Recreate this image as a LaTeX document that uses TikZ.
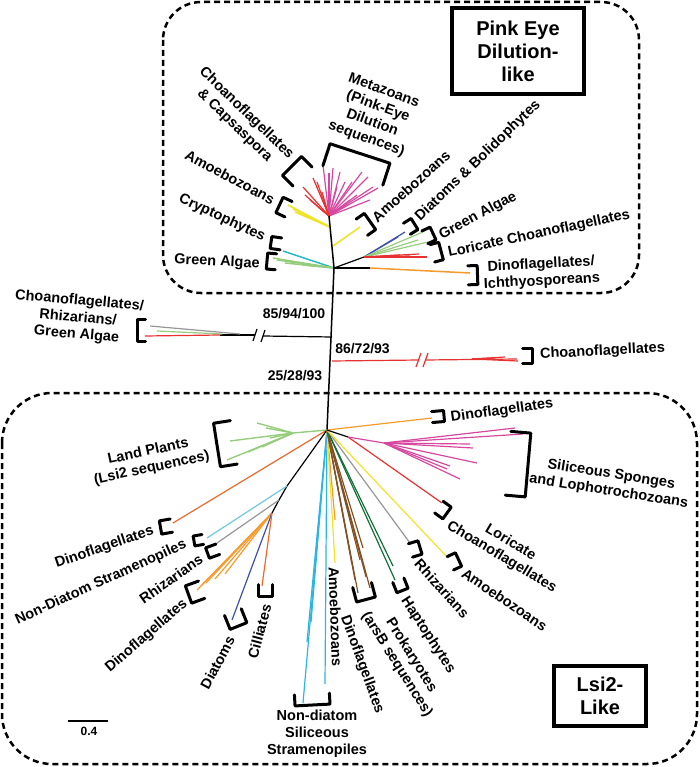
\documentclass[tikz,border=0pt]{standalone}
\usepackage{fontspec}
\setmainfont{Liberation Sans}
\usetikzlibrary{calc}
\definecolor{metapink}{RGB}{214,72,160}
\definecolor{choared}{RGB}{232,50,50}
\definecolor{amoyellow}{RGB}{240,228,40}
\definecolor{cryptcyan}{RGB}{40,185,200}
\definecolor{algagreen}{RGB}{150,205,125}
\definecolor{diatblue}{RGB}{60,80,170}
\definecolor{dinoorange}{RGB}{245,155,45}
\definecolor{dinored}{RGB}{235,105,45}
\definecolor{stramsky}{RGB}{45,180,230}
\definecolor{stramcyan}{RGB}{110,200,220}
\definecolor{rhizgray}{RGB}{150,150,150}
\definecolor{prokbrown}{RGB}{130,80,35}
\definecolor{haptgreen}{RGB}{20,110,55}

% clade bracket: centre, direction of the arms, half length, depth
\newcommand{\cladebracket}[4]{%
  \draw[brk, shift={#1}, rotate=#2] (#4,-#3) -- (0,-#3) -- (0,#3) -- (#4,#3);}

\begin{document}
\begin{tikzpicture}[
    x=1pt, y=-1pt,
    lbl/.style={font=\bfseries\fontsize{14.5}{17}\selectfont, align=center, inner sep=0pt},
    boot/.style={font=\bfseries\fontsize{14}{16}\selectfont, inner sep=0pt},
    title/.style={draw, line width=4pt, font=\bfseries\fontsize{20}{23}\selectfont, align=center, inner sep=0pt},
    brk/.style={line width=3pt, line join=round, line cap=round},
    br/.style={line width=1.2pt},
    trunk/.style={line width=1.5pt, black},
    dbox/.style={line width=2.5pt, dash pattern=on 6pt off 4pt}
]
    \useasboundingbox (0,0) rectangle (700,767);

    % group frames
    \draw[dbox, rounded corners=38pt] (163,2) rectangle (639,293);
    \draw[dbox, rounded corners=50pt] (2,393) rectangle (697,764);
    \node[title, minimum width=132pt, minimum height=86pt] (pinkeye) at (518,51) {Pink Eye\\Dilution-\\like};
    \node[title, minimum width=92pt, minimum height=60pt] (lsitwo) at (600,696) {Lsi2-\\Like};

    % hubs
    \coordinate (phub) at (329,216);
    \coordinate (uhub) at (334,268);
    \coordinate (lhub) at (327,430);
    \coordinate (rbase) at (364,257);
    \coordinate (obase) at (370,268);
    \coordinate (jleft) at (332,337);
    \coordinate (jright) at (332,361);

    % upper tree
    \foreach \p in {(323,165),(329,173),(333,168),(340,172),(345,182),(352,182),(362,172),(368,177),(373,187),(378,188),(357,195),(370,200),(350,200),(337,187)}
        \draw[br, metapink] (phub) -- \p;
    \foreach \p in {(303,187),(305,195),(313,178),(317,182),(322,192),(310,200),(318,207)}
        \draw[br, choared] (phub) -- \p;
    \foreach \p in {(288,205),(293,209),(295,212),(300,213)}
        \draw[br, amoyellow, line width=1.6pt] (330,227) -- \p;
    \draw[br, amoyellow, line width=1.6pt] (333,246) -- (360,227);
    \draw[br, cryptcyan, line width=1.5pt] (uhub) -- (283,251);
    \foreach \p in {(273,258),(277,260),(285,263),(303,265)}
        \draw[br, algagreen, line width=1.5pt] (uhub) -- \p;
    \draw[br, black] (uhub) -- (rbase);
    \foreach \p in {(405,232),(398,237)}
        \draw[br, diatblue] (rbase) -- \p;
    \foreach \p in {(423,232),(428,242),(418,240)}
        \draw[br, algagreen] (rbase) -- \p;
    \foreach \p in {(427,257),(419,254),(410,256),(400,255)}
        \draw[br, choared] (rbase) -- \p;
    \draw[br, black] (uhub) -- (obase);
    \draw[br, dinoorange, line width=1.5pt] (obase) -- (470,273);
    \draw[trunk] (phub) -- (uhub) -- (lhub);

    % long branches with breaks
    \draw[br, black] (jleft) -- (263,336);
    \draw[br, black] (261,342) -- (265,330);
    \draw[br, black] (253,341) -- (257,329);
    \draw[br, black] (255,335) -- (220,335);
    \draw[br, rhizgray] (240,334) -- (150,326);
    \draw[br, algagreen] (222,334) -- (157,331);
    \draw[br, choared] (220,335) -- (145,336);
    \draw[br, choared] (jright) -- (419,360);
    \draw[br, choared] (416,367) -- (421,353);
    \draw[br, choared] (423,367) -- (428,353);
    \draw[br, choared] (425,360) -- (517,359);
    \foreach \p in {(505,357),(518,361),(495,358)}
        \draw[br, choared] (472,359) -- \p;

    % lower tree
    \draw[br, dinoorange] (lhub) -- (432,418);
    \draw[br, algagreen, line width=1.4pt] (lhub) -- (293,433);
    \foreach \p in {(230,441),(227,460),(257,423),(266,428),(262,447),(248,452),(270,438)}
        \draw[br, algagreen, line width=1.4pt] (293,433) -- \p;
    \draw[br, dinored] (lhub) -- (173,523);
    \draw[br, black] (lhub) -- (287,486) -- (279,500) -- (272,513);
    \draw[br, stramcyan] (287,486) -- (207,538);
    \draw[br, rhizgray] (279,500) -- (217,543);
    \foreach \p in {(197,590),(201,586),(206,583),(215,579),(225,574)}
        \draw[br, dinoorange] (272,513) -- \p;
    \draw[br, diatblue] (272,513) -- (232,620);
    \draw[br, dinored] (272,513) -- (262,586);
    \foreach \p in {(303,703),(325,684),(311,622),(307,642)}
        \draw[br, stramsky] (lhub) -- \p;
    \draw[br, dinoorange] (lhub) -- (335,520);
    \draw[br, amoyellow] (lhub) -- (335,563);
    \foreach \p in {(352,564),(355,580),(358,593),(363,548),(366,577),(370,588),(360,560)}
        \draw[br, prokbrown] (lhub) -- \p;
    \foreach \p in {(395,580),(393,566)}
        \draw[br, haptgreen] (lhub) -- \p;
    \draw[br, rhizgray] (lhub) -- (410,543);
    \draw[br, amoyellow] (lhub) -- (448,558);
    \draw[br, black] (lhub) -- (348,437);
    \draw[br, choared] (348,437) -- (442,503);
    \draw[br, metapink] (348,437) -- (384,443);
    \foreach \p in {(515,428),(523,434),(470,444),(473,448),(477,463),(447,469),(460,479),(450,466)}
        \draw[br, metapink] (384,443) -- \p;

    % clade brackets
    \cladebracket{(292,166)}{-45}{13.5}{15}
    \cladebracket{(279.5,205)}{-25}{8.5}{10}
    \cladebracket{(271,242.5)}{-8}{6}{10}
    \cladebracket{(267,261)}{-5}{8}{9}
    \cladebracket{(360,153.5)}{-108}{31.5}{23}
    \cladebracket{(370,221.5)}{215}{9.9}{10}
    \cladebracket{(414.5,224)}{212}{6.5}{9}
    \cladebracket{(433,233.5)}{205}{7}{9}
    \cladebracket{(441,251)}{195}{9}{9}
    \cladebracket{(477.5,275)}{182}{9.5}{9.5}
    \cladebracket{(137.5,330)}{0}{11}{8}
    \cladebracket{(532,356)}{180}{7.5}{9.5}
    \cladebracket{(444,416)}{185}{5.5}{12}
    \cladebracket{(528,465)}{175}{32}{20}
    \cladebracket{(447,513)}{144}{7.2}{10}
    \cladebracket{(458.5,559.5)}{205}{7.4}{9}
    \cladebracket{(420,547.5)}{197}{7}{10}
    \cladebracket{(402.5,590.5)}{112}{6}{11}
    \cladebracket{(366,599.5)}{105}{9.7}{15}
    \cladebracket{(312.5,705)}{93}{17.5}{11}
    \cladebracket{(265,596.5)}{90}{7}{12}
    \cladebracket{(238.5,626)}{112}{9}{15}
    \cladebracket{(188.5,594.5)}{20}{9.2}{14}
    \cladebracket{(207.5,553)}{20}{5.5}{11}
    \cladebracket{(194,541)}{10}{5}{9}
    \cladebracket{(160.5,527.5)}{10}{6.7}{11}
    \cladebracket{(217,445)}{9}{22}{17}

    % clade labels
    \node[lbl, rotate=-44] (tChoCap) at (240.5,119.5) {Choanoflagellates\\\& Capsaspora};
    \node[lbl, rotate=-28] (tAmoUL) at (230,177) {Amoebozoans};
    \node[lbl, rotate=-25] (tCrypt) at (222,218) {Cryptophytes};
    \node[lbl, rotate=-3] (tAlgUL) at (217,262) {Green Algae};
    \node[lbl, rotate=-20] (tMeta) at (375,115) {Metazoans\\(Pink-Eye\\Dilution\\sequences)};
    \node[lbl, rotate=42] (tAmoUR) at (411,186) {Amoebozoans};
    \node[lbl, rotate=44] (tDiaBol) at (478,161) {Diatoms \& Bolidophytes};
    \node[lbl, rotate=28] (tAlgUR) at (478,216) {Green Algae};
    \node[lbl, rotate=12] (tLorUp) at (539,234) {Loricate Choanoflagellates};
    \node[lbl, rotate=3] (tDinIch) at (541.5,273) {Dinoflagellates/\\Ichthyosporeans};
    \node[lbl, rotate=-5] (tChoRhiz) at (78,318) {Choanoflagellates/\\Rhizarians/\\Green Algae};
    \node[lbl, rotate=3] (tChoMid) at (602.5,351.5) {Choanoflagellates};
    \node[lbl, rotate=8] (tDinUp) at (502,411) {Dinoflagellates};
    \node[lbl, rotate=-9] (tSpong) at (610,483) {Siliceous Sponges\\and Lophotrochozoans};
    \node[lbl, rotate=12] (tLand) at (150,460) {Land Plants\\(Lsi2 sequences)};
    \node[lbl, rotate=19] (tDinL) at (104.5,547.5) {Dinoflagellates};
    \node[lbl, rotate=24.5] (tStram) at (101,582.5) {Non-Diatom Stramenopiles};
    \node[lbl, rotate=35] (tRhizL) at (171,579) {Rhizarians};
    \node[lbl, rotate=41] (tDinLL) at (146.5,636) {Dinoflagellates};
    \node[lbl, rotate=62] (tDiat) at (217.5,662.5) {Diatoms};
    \node[lbl, rotate=75] (tCill) at (259.5,631.5) {Cilliates};
    \node[lbl, rotate=-88] (tAmoMid) at (335.5,616.5) {Amoebozoans};
    \node[lbl] (tSilStr) at (317,734) {Non-diatom\\Siliceous\\Stramenopiles};
    \node[lbl, rotate=-70] (tDinMid) at (362,664.5) {Dinoflagellates};
    \node[lbl, rotate=-58] (tProk) at (404,660) {Prokaryotes\\(arsB sequences)};
    \node[lbl, rotate=-57] (tHapt) at (428,635) {Haptophytes};
    \node[lbl, rotate=-48] (tRhizR) at (442,588.5) {Rhizarians};
    \node[lbl, rotate=-34] (tAmoR) at (504.5,599.5) {Amoebozoans};
    \node[lbl, rotate=-31] (tLorLow) at (506,550) {Loricate\\Choanoflagellates};

    % support values
    \node[boot] (bsA) at (294,314) {85/94/100};
    \node[boot] (bsB) at (362.5,349) {86/72/93};
    \node[boot] (bsC) at (295,376) {25/28/93};

    % scale bar
    \coordinate (scaleL) at (68,721);
    \coordinate (scaleR) at (108,721);
    \draw[line width=1.5pt] (scaleL) -- (scaleR);
    \node[font=\bfseries\fontsize{12}{14}\selectfont, inner sep=0pt] (scaleT) at (89,731) {0.4};
\end{tikzpicture}
\end{document}
